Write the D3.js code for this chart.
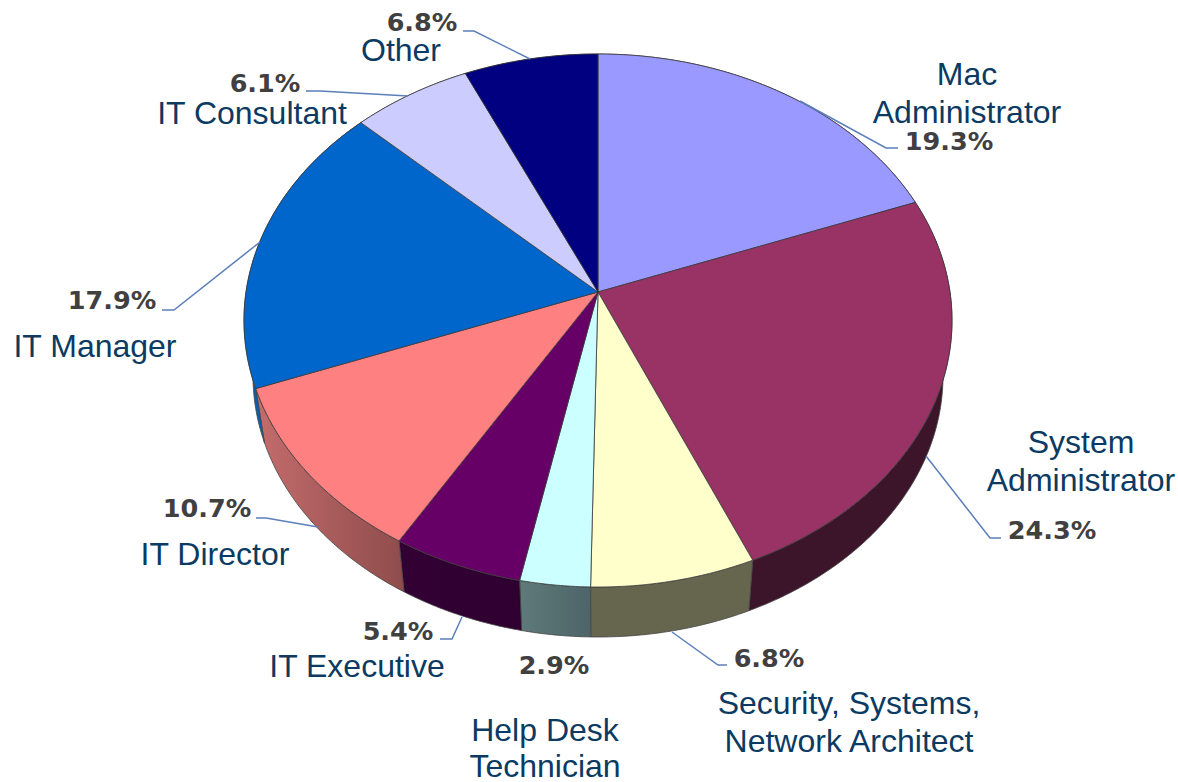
<!DOCTYPE html>
<html><head><meta charset="utf-8">
<script src="https://cdn.jsdelivr.net/npm/d3@7/dist/d3.min.js"></script>
<style>html,body{margin:0;padding:0;background:#fff}svg{display:block}</style>
</head><body><svg id="c" width="1178" height="782"></svg>
<script>
const categories = ["Mac Administrator","System Administrator","Security, Systems, Network Architect","Help Desk Technician","IT Executive","IT Director","IT Manager","IT Consultant","Other"];
const values = [19.3,24.3,6.8,2.9,5.4,10.7,17.9,6.1,6.8];
const valueLabels = ["19.3%","24.3%","6.8%","2.9%","5.4%","10.7%","17.9%","6.1%","6.8%"];
const topColors = ["#9999ff","#993366","#ffffcc","#ccffff","#660066","#ff8080","#0066cc","#ccccff","#000080"];
const sideStart = ["#4d2640","#3d152b","#66664f","#5f7a7a","#330033","#c46c6c","#0a5fb0","#666680","#000040"];
const sideEnd   = ["#4d2640","#3d152b","#66664f","#4d6468","#2e0030","#8f4c4c","#0a5fb0","#666680","#000040"];

// layout (annotation placement, separate from the data)
const nameLines = [["Mac","Administrator"],["System","Administrator"],["Security, Systems,","Network Architect"],["Help Desk","Technician"],["IT Executive"],["IT Director"],["IT Manager"],["IT Consultant"],["Other"]];
const nameX = [967,1081,849,545,357,215,95,252,401];
const nameY = [85,453,714,741,677,565,357,124,61];
const nameGap = [38,38,38,36,0,0,0,0,0];
const pctX  = [949,1052,769,554,398,207,112,265,422];
const pctY  = [150,539,667,674,640,517,309,92,31];
const leaders = [
  [[800,101],[886,148],[898,148]],
  [[926,456],[990,538],[1001,538]],
  [[672,632],[718,665],[727,665]],
  null,
  [[462,617],[452,639],[440,639]],
  [[318,527],[266,518],[256,518]],
  [[260,242],[174,310],[162,310]],
  [[408,96],[320,91],[306,91]],
  [[530,59],[474,31],[463,31]]
];

const svg = d3.select("#c");
// top rim ellipse and the smaller bottom rim ellipse
const xTop = d3.scaleLinear().domain([-1,1]).range([244,952]);
const yTop = d3.scaleLinear().domain([-1,1]).range([54,587]);
const xBot = d3.scaleLinear().domain([-1,1]).range([253,943]);
const yBot = d3.scaleLinear().domain([-1,1]).range([115,637]);
// perspective: the pie's centre sits above the ellipse's centre
const e = -0.107;
const persp = a=>{
  const u=Math.sin(a), v=-Math.cos(a), w=1+e*v;
  return [u*Math.sqrt(1-e*e)/w,(v+e)/w];
};
const lineTop = d3.line().x(p=>xTop(p[0])).y(p=>yTop(p[1]));
const lineBot = d3.line().x(p=>xBot(p[0])).y(p=>yBot(p[1]));
const arcs = d3.pie().sort(null)(values);
const sweep = (a0,a1)=>{
  const n = Math.max(2,Math.ceil((a1-a0)/0.01));
  return d3.range(n+1).map(i=>persp(a0+(a1-a0)*i/n));
};

const defs = svg.append("defs");
arcs.forEach((d,i)=>{
  const g = defs.append("linearGradient").attr("id","side"+i);
  g.append("stop").attr("offset","0%").attr("stop-color",sideStart[i]);
  g.append("stop").attr("offset","100%").attr("stop-color",sideEnd[i]);
});

// sides
svg.append("g").selectAll("path").data(arcs).join("path")
  .attr("d",d=>{
    const s=sweep(d.startAngle,d.endAngle);
    return lineTop(s)+"L"+lineBot(s.slice().reverse()).slice(1)+"Z";
  })
  .attr("fill",d=>`url(#side${d.index})`)
  .attr("stroke","#444").attr("stroke-width",0.8);

// top faces
svg.append("g").selectAll("path").data(arcs).join("path")
  .attr("d",d=>lineTop([[0,e],...sweep(d.startAngle,d.endAngle)])+"Z")
  .attr("fill",d=>topColors[d.index])
  .attr("stroke","#3a3a3a").attr("stroke-width",0.8).attr("stroke-linejoin","round");

// leaders
svg.append("g").selectAll("path").data(leaders.filter(Boolean)).join("path")
  .attr("d",d3.line())
  .attr("fill","none").attr("stroke","#5b7fb9").attr("stroke-width",1.5);

// names
const names = svg.append("g").attr("font-family","'Liberation Sans',Arial,sans-serif")
  .attr("font-size",32).attr("fill","#0b3a62").attr("text-anchor","middle");
categories.forEach((c,i)=>{
  nameLines[i].forEach((t,j)=>names.append("text")
    .attr("x",nameX[i]).attr("y",nameY[i]+j*nameGap[i]).text(t));
});
// percents
svg.append("g").attr("font-family","'DejaVu Sans',sans-serif").attr("font-weight","bold")
  .attr("font-size",25.5).attr("fill","#404040").attr("text-anchor","middle")
  .selectAll("text").data(valueLabels).join("text")
  .attr("x",(d,i)=>pctX[i]).attr("y",(d,i)=>pctY[i]).text(d=>d);
</script></body></html>
